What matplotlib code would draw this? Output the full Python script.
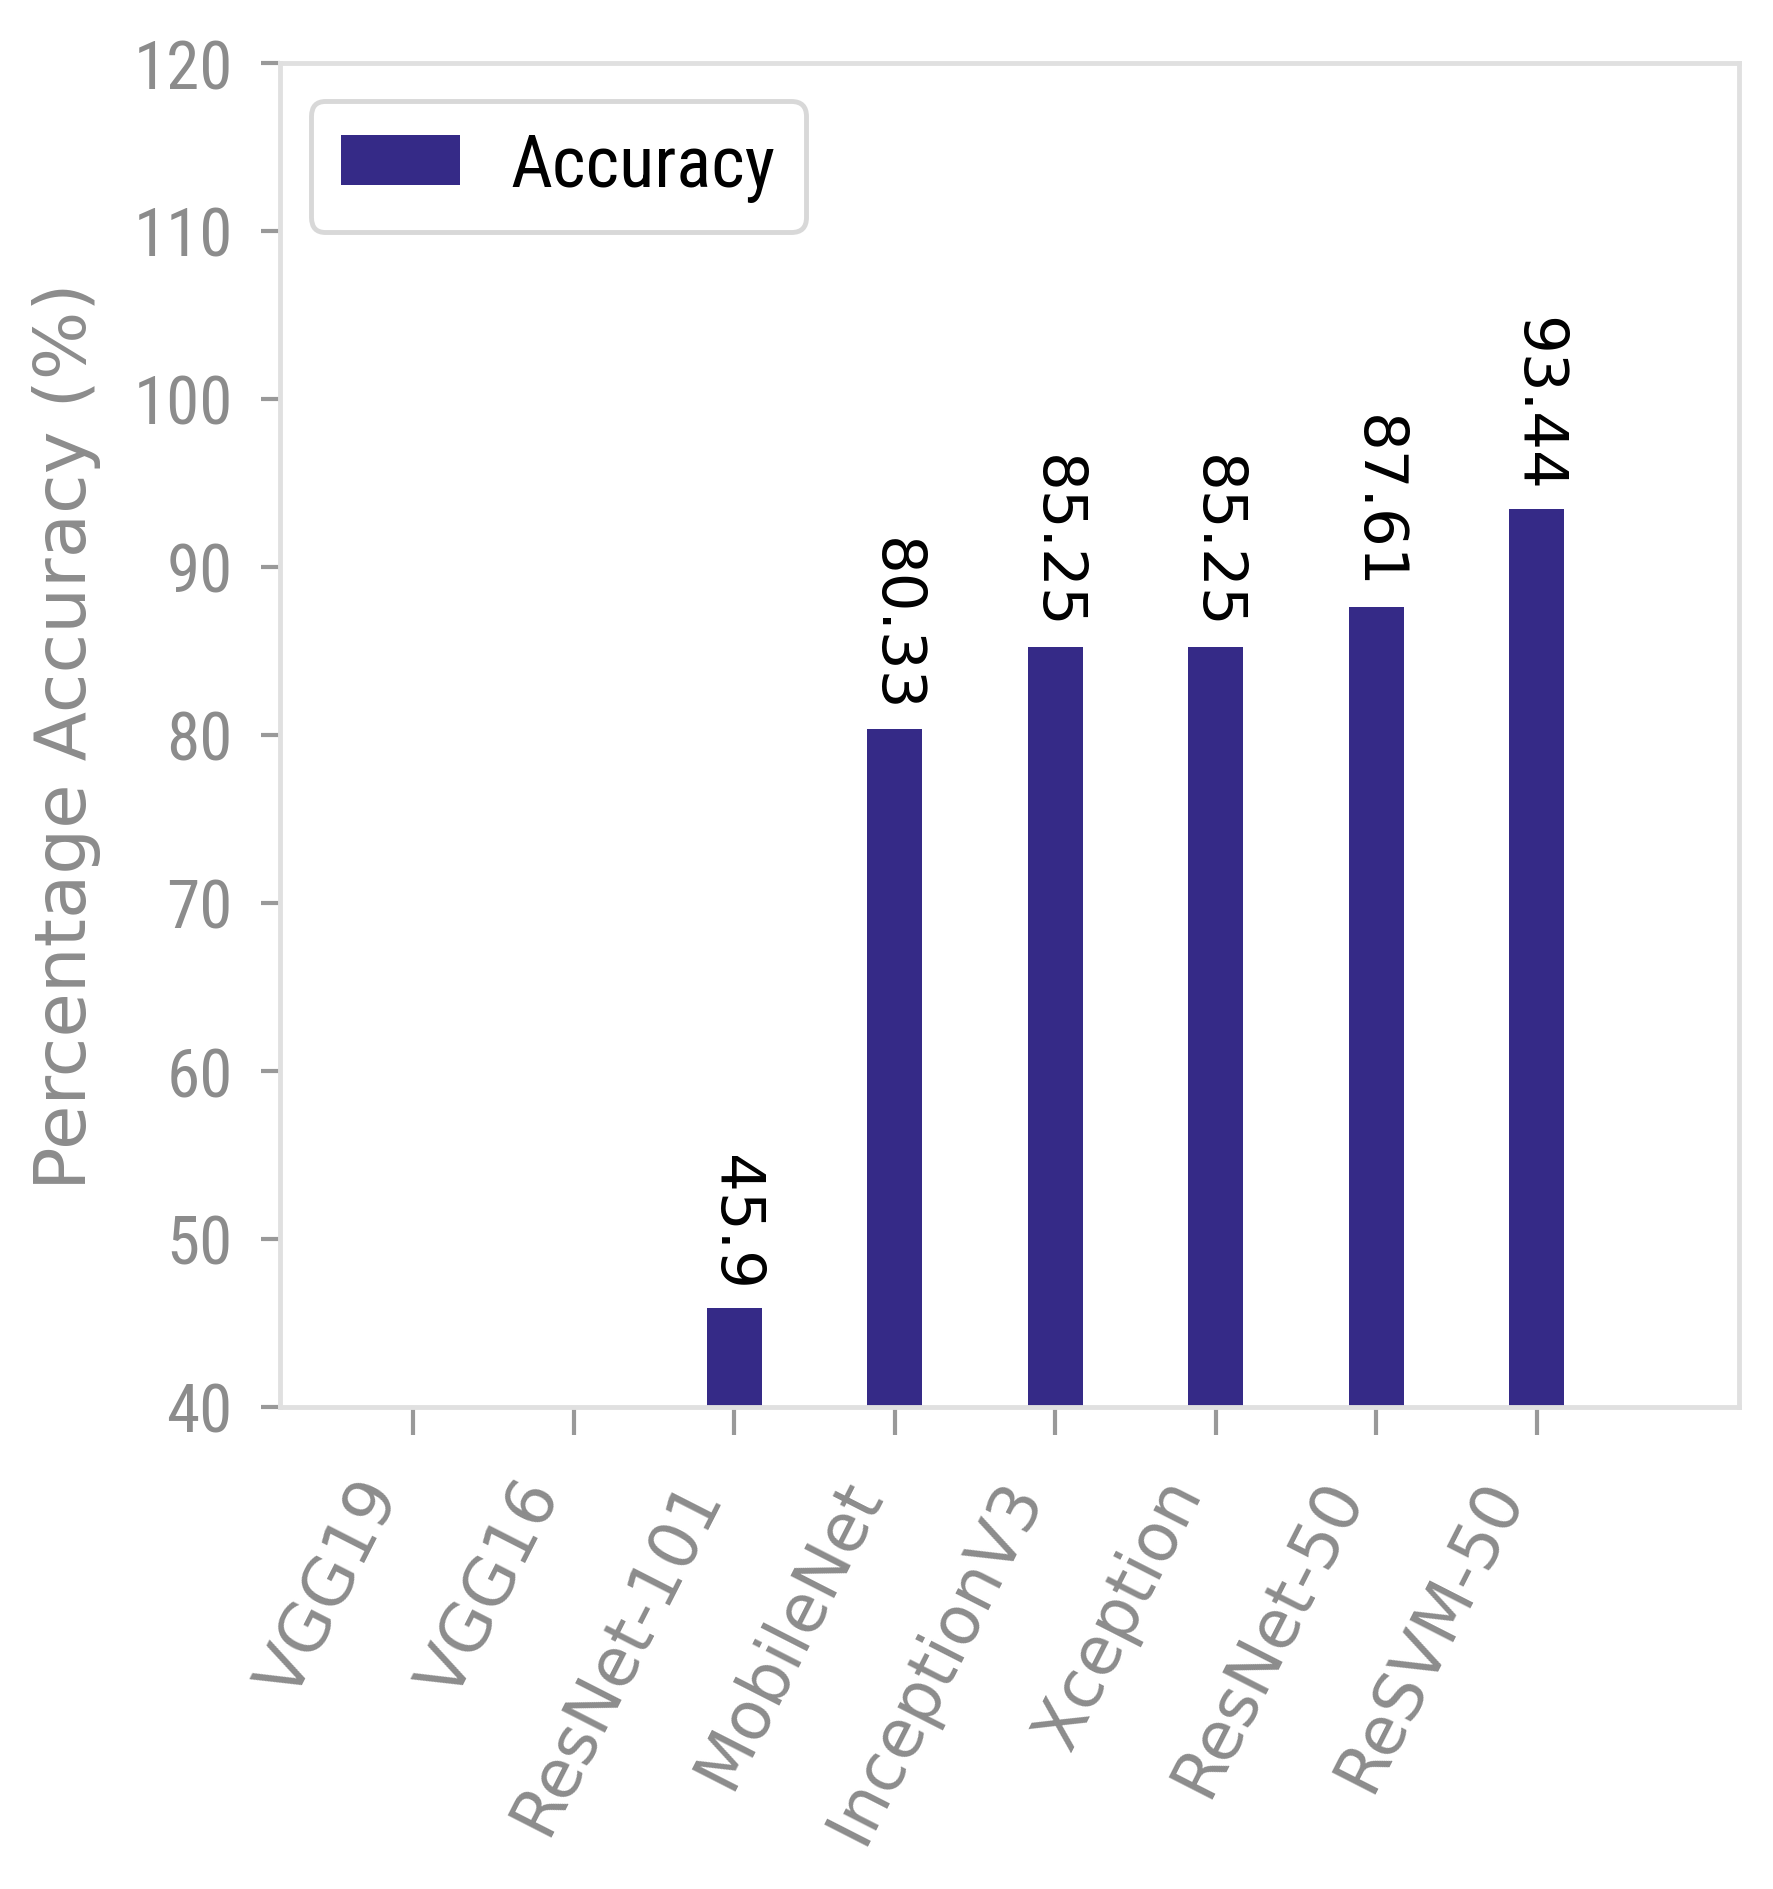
import matplotlib
matplotlib.use("Agg")
import matplotlib.pyplot as plt
from matplotlib import font_manager
from matplotlib.font_manager import FontProperties
from matplotlib.textpath import TextPath
from matplotlib.transforms import ScaledTranslation
import numpy as np

models = ["VGG19", "VGG16", "ResNet-101", "MobileNet", "InceptionV3", "Xception", "ResNet-50", "ReSVM-50"]
accuracy = [36.07, 34.43, 45.9, 80.33, 85.25, 85.25, 87.61, 93.44]
yticks = [40, 50, 60, 70, 80, 90, 100, 110, 120]

DPI = 100

# ---- pick a condensed / narrow font if one is installed ----
def find_condensed():
    prefs = ["Liberation Sans Narrow", "DejaVu Sans Condensed", "Noto Sans",
             "Roboto Condensed", "Open Sans Condensed", "Roboto", "Open Sans"]
    cands = []
    for f in font_manager.fontManager.ttflist:
        w = f.weight if isinstance(f.weight, int) else (400 if f.weight in ("normal", "regular", "book") else 700)
        if f.style != "normal" or w not in (400,):
            continue
        cond = (str(f.stretch) in ("condensed", "semi-condensed", "extra-condensed")
                or "Narrow" in f.name or "Condensed" in f.name
                or "Condensed" in f.fname or "Narrow" in f.fname)
        if cond:
            rank = prefs.index(f.name) if f.name in prefs else len(prefs)
            cands.append((rank, f.fname))
    if cands:
        cands.sort()
        return FontProperties(fname=cands[0][1])
    return FontProperties(family="DejaVu Sans")

cfont = find_condensed()

def fit_size(text, fp, target_w_px, target_h_px, cap_char):
    w = TextPath((0, 0), text, prop=fp, size=1).get_extents().width
    h = TextPath((0, 0), cap_char, prop=fp, size=1).get_extents().height
    s_w = target_w_px * 72 / DPI / w
    s_h = target_h_px * 72 / DPI / h
    return min(s_w, s_h)

ytick_size = fit_size("120", cfont, 99, 48, "1")
leg_size = fit_size("Accuracy", cfont, 262, 58, "A")

fig = plt.figure(figsize=(17.73, 18.9), dpi=DPI)
ax = fig.add_axes([280/1773, 1 - 1408/1890, (1739-280)/1773, (1408-64)/1890])

x = np.arange(len(models))
ax.bar(x, accuracy, width=0.34, color="#352a87", label="Accuracy", zorder=2)
for xi, v in zip(x, accuracy):
    ax.annotate(f"{v:g}", (xi, v), xytext=(0, 13), textcoords="offset points",
                rotation=270, ha="center", va="bottom", fontsize=44, color="black",
                family="DejaVu Sans", annotation_clip=True)

ax.set_ylim(40, 120)
ax.set_xlim(-0.83, 8.26)
ax.set_yticks(yticks)
ax.set_xticks(x)
ax.tick_params(axis="both", colors="#999999", labelcolor="#8c8c8c", width=3)
ax.tick_params(axis="x", length=20, pad=22)
ax.tick_params(axis="y", length=14, pad=20)
ax.set_xticklabels(models, rotation=63, ha="right", va="center",
                   rotation_mode="anchor", fontsize=48, family="DejaVu Sans")
ax.set_yticklabels([str(t) for t in yticks], fontproperties=cfont, fontsize=ytick_size)
shift = ScaledTranslation(-30 / DPI, -18 / DPI, fig.dpi_scale_trans)
for lab in ax.get_xticklabels():
    lab.set_transform(lab.get_transform() + shift)

for s in ax.spines.values():
    s.set_color("#e0e0e0")
    s.set_linewidth(3.5)
ax.set_ylabel("Percentage Accuracy (%)", fontsize=52, color="#8c8c8c", labelpad=23,
              family="DejaVu Sans")

fs_px = leg_size * DPI / 72
text_h = 1.17 * fs_px
bpad = max((129 - text_h) / 2 / fs_px + 8.5 / fs_px, 0.15)
lp = cfont.copy()
lp.set_size(leg_size)
leg = ax.legend(loc="upper left", bbox_to_anchor=(0.0212, 0.9717), borderaxespad=0,
                prop=lp, handlelength=119 / fs_px, handleheight=49 / fs_px,
                borderpad=bpad, handletextpad=50 / fs_px, fancybox=True, framealpha=1)
leg.get_frame().set_edgecolor("#d8d8d8")
leg.get_frame().set_linewidth(3.5)
for t in leg.get_texts():
    t.set_color("black")

fig.savefig("out.png", dpi=DPI)
